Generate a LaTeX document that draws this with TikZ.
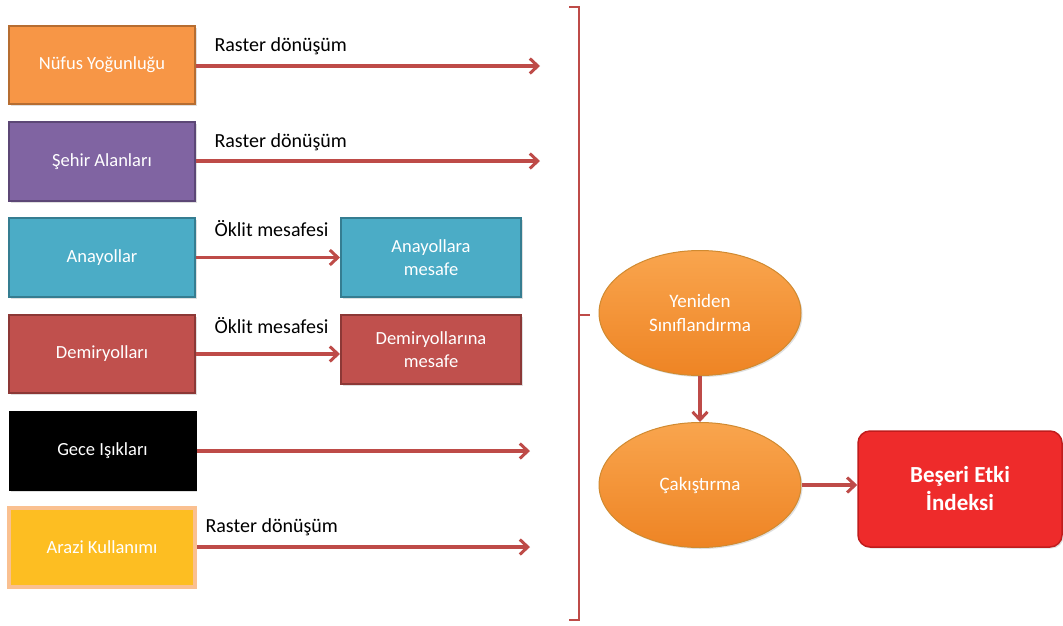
\documentclass[tikz,border=0pt]{standalone}
\usepackage{fontspec}
\setmainfont{Carlito}
\usetikzlibrary{arrows.meta,shapes.geometric,shadows}
\definecolor{arr}{HTML}{BE4B48}
\definecolor{orF}{HTML}{F79646}\definecolor{orD}{HTML}{B66D31}
\definecolor{puF}{HTML}{8064A2}\definecolor{puD}{HTML}{5C4776}
\definecolor{cyF}{HTML}{4BACC6}\definecolor{cyD}{HTML}{357D91}
\definecolor{reF}{HTML}{C0504D}\definecolor{reD}{HTML}{8C3836}
\definecolor{yeF}{HTML}{FDBE22}\definecolor{yeD}{HTML}{FAC090}
\definecolor{elT}{HTML}{F9A54E}\definecolor{elB}{HTML}{EE8424}\definecolor{elD}{HTML}{D08A30}
\definecolor{bxF}{HTML}{EE2B2B}\definecolor{bxD}{HTML}{C01C1C}
\begin{document}
\begin{tikzpicture}[x=1pt,y=-1pt,
  box/.style={draw, line width=2pt, minimum width=186pt, minimum height=78pt, text=white, font=\fontsize{18.5}{23}\selectfont, align=center, drop shadow={shadow xshift=1.5pt,shadow yshift=-1.5pt,opacity=0.25}},
  sbox/.style={box, minimum width=180pt},
  ell/.style={ellipse, draw=elD, line width=1pt, top color=elT, bottom color=elB, minimum width=202pt, minimum height=125pt, text=white, font=\fontsize{19}{24}\selectfont, align=center, drop shadow={shadow xshift=1.5pt,shadow yshift=-1.5pt,opacity=0.25}},
  conn/.style={draw=arr, line width=3.2pt, -{Straight Barb[length=8pt,width=15pt,line width=3pt]}},
  lab/.style={font=\fontsize{20}{24}\selectfont, anchor=west},
  brace/.style={draw=arr, line width=2.6pt}
]
\useasboundingbox (0,0) rectangle (1063,625);
\fill[white] (0,0) rectangle (1063,625);

\node[box, fill=orF, draw=orD] (n1) at (102,65) {Nüfus Yoğunluğu};
\node[box, fill=puF, draw=puD, minimum height=79pt] (n2) at (102,161.5) {Şehir Alanları};
\node[box, fill=cyF, draw=cyD, minimum height=79pt] (n3) at (102,257.5) {Anayollar};
\node[box, fill=reF, draw=reD] (n4) at (102,354) {Demiryolları};
\node[box, fill=black, draw=black] (n5) at (102.5,451) {Gece Işıkları};
\node[box, fill=yeF, draw=yeD, line width=4pt, minimum width=186pt, minimum height=79pt] (n6) at (102,547.5) {Arazi Kullanımı};

\node[sbox, fill=cyF, draw=cyD, minimum height=79pt] (m3) at (431,257.5) {Anayollara\\mesafe};
\node[sbox, fill=reF, draw=reD, minimum height=69pt] (m4) at (431,349.5) {Demiryollarına\\mesafe};

\coordinate (e1) at (540,66);
\coordinate (e2) at (540,161);
\coordinate (e5) at (530,451);
\coordinate (e6) at (530,547);

\draw[conn] (n1.east |- e1) -- (e1);
\draw[conn] (n2.east |- e2) -- (e2);
\draw[conn] (n3.east) -- (m3.west);
\draw[conn] (n4.east) -- (m4.west |- n4.east);
\draw[conn] (n5.east |- e5) -- (e5);
\draw[conn] (n6.east |- e6) -- (e6);

\node[lab] (l1) at (211,46) {Raster dönüşüm};
\node[lab] (l2) at (211,142) {Raster dönüşüm};
\node[lab] (l3) at (211,229) {Öklit mesafesi};
\node[lab] (l4) at (211,326) {Öklit mesafesi};
\node[lab] (l6) at (202,527) {Raster dönüşüm};

% brace
\coordinate (bt) at (569,7);
\coordinate (bb) at (569,620);
\coordinate (bm) at (590,315);
\draw[brace] (bt) -- (579,7) -- (579,620) -- (bb);
\draw[brace] (579,315) -- (bm);

\node[ell] (y1) at (700,313) {Yeniden\\Sınıflandırma};
\node[ell] (y2) at (700,485) {Çakıştırma};
\node[draw=bxD, line width=1.5pt, fill=bxF, rounded corners=12pt, minimum width=204pt, minimum height=116pt, text=white, font=\bfseries\fontsize{23}{28}\selectfont, align=center, drop shadow={shadow xshift=1.5pt,shadow yshift=-1.5pt,opacity=0.25}] (z) at (960,489) {Beşeri Etki\\İndeksi};

\draw[conn] (y1) -- (y2);
\draw[conn] (y2.east) -- (z.west |- y2.east);
\end{tikzpicture}
\end{document}
